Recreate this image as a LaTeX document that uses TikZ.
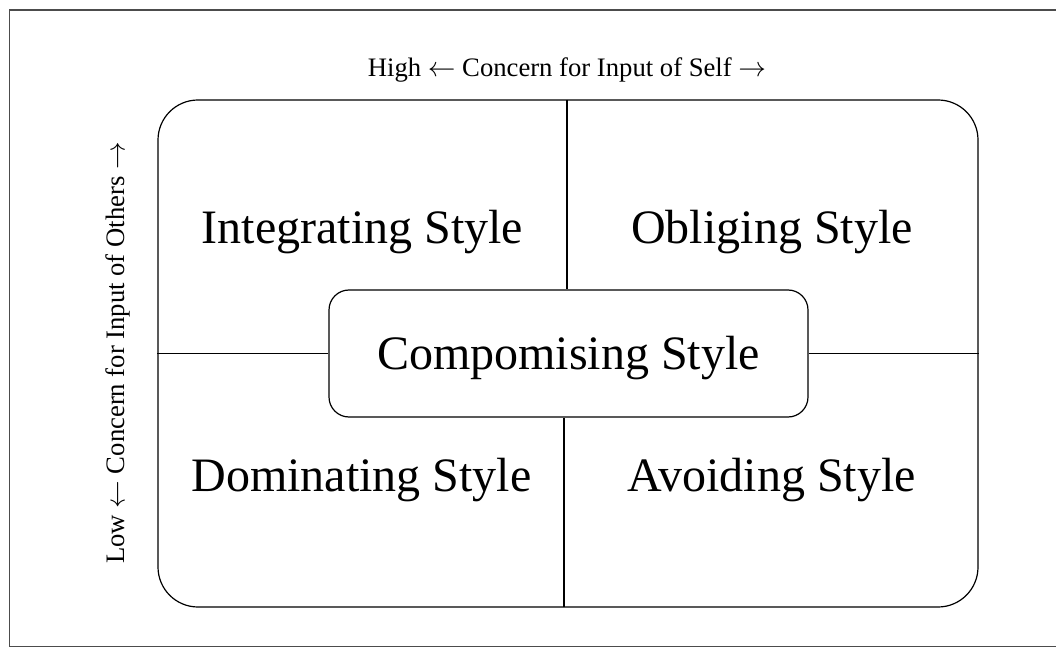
\documentclass[tikz,border=0pt]{standalone}
\usepackage{fontspec}
\setmainfont{Liberation Serif}
\begin{document}
\begin{tikzpicture}[x=0.75pt,y=-0.75pt,
  ln/.style={line width=0.9pt,black},
  big/.style={font=\fontsize{36}{40}\selectfont,anchor=base,inner sep=0pt},
  lab/.style={font=\fontsize{20}{24}\selectfont,inner sep=0pt}]
\useasboundingbox (0,0) rectangle (1056,648);
\draw[line width=1.2pt,black!70] (1060,10) -- (9.5,10) -- (9.5,646.5) -- (1060,646.5);
\node[draw,ln,rounded corners=30pt,minimum width=820*0.75pt,minimum height=507*0.75pt,inner sep=0pt] (outer) at (568,353.5) {};
\node[draw,ln,rounded corners=15pt,minimum width=479*0.75pt,minimum height=127*0.75pt,inner sep=0pt] (mid) at (568.5,353.5) {};
\coordinate (ttop) at (567,100);
\coordinate (bbot) at (564,607);
\draw[ln] (ttop) -- (ttop |- mid.north);
\draw[ln] (bbot) -- (bbot |- mid.south);
\draw[ln] (outer.west) -- (mid.west);
\draw[ln] (mid.east) -- (outer.east);
\node[big] (int) at (362.5,244) {Integrating Style};
\node[big] (obl) at (772,244) {Obliging Style};
\node[big] (dom) at (361.5,491) {Dominating Style};
\node[big] (avo) at (771.5,491) {Avoiding Style};
\node[big] (com) at (568.5,369) {Compomising Style};
\node[lab,anchor=base] (top) at (567,77) {High {$\leftarrow$} Concern for Input of Self {$\rightarrow$}};
\node[lab,rotate=90] (left) at (118,353) {Low {$\leftarrow$} Concern for Input of Others {$\rightarrow$}};
\end{tikzpicture}
\end{document}
